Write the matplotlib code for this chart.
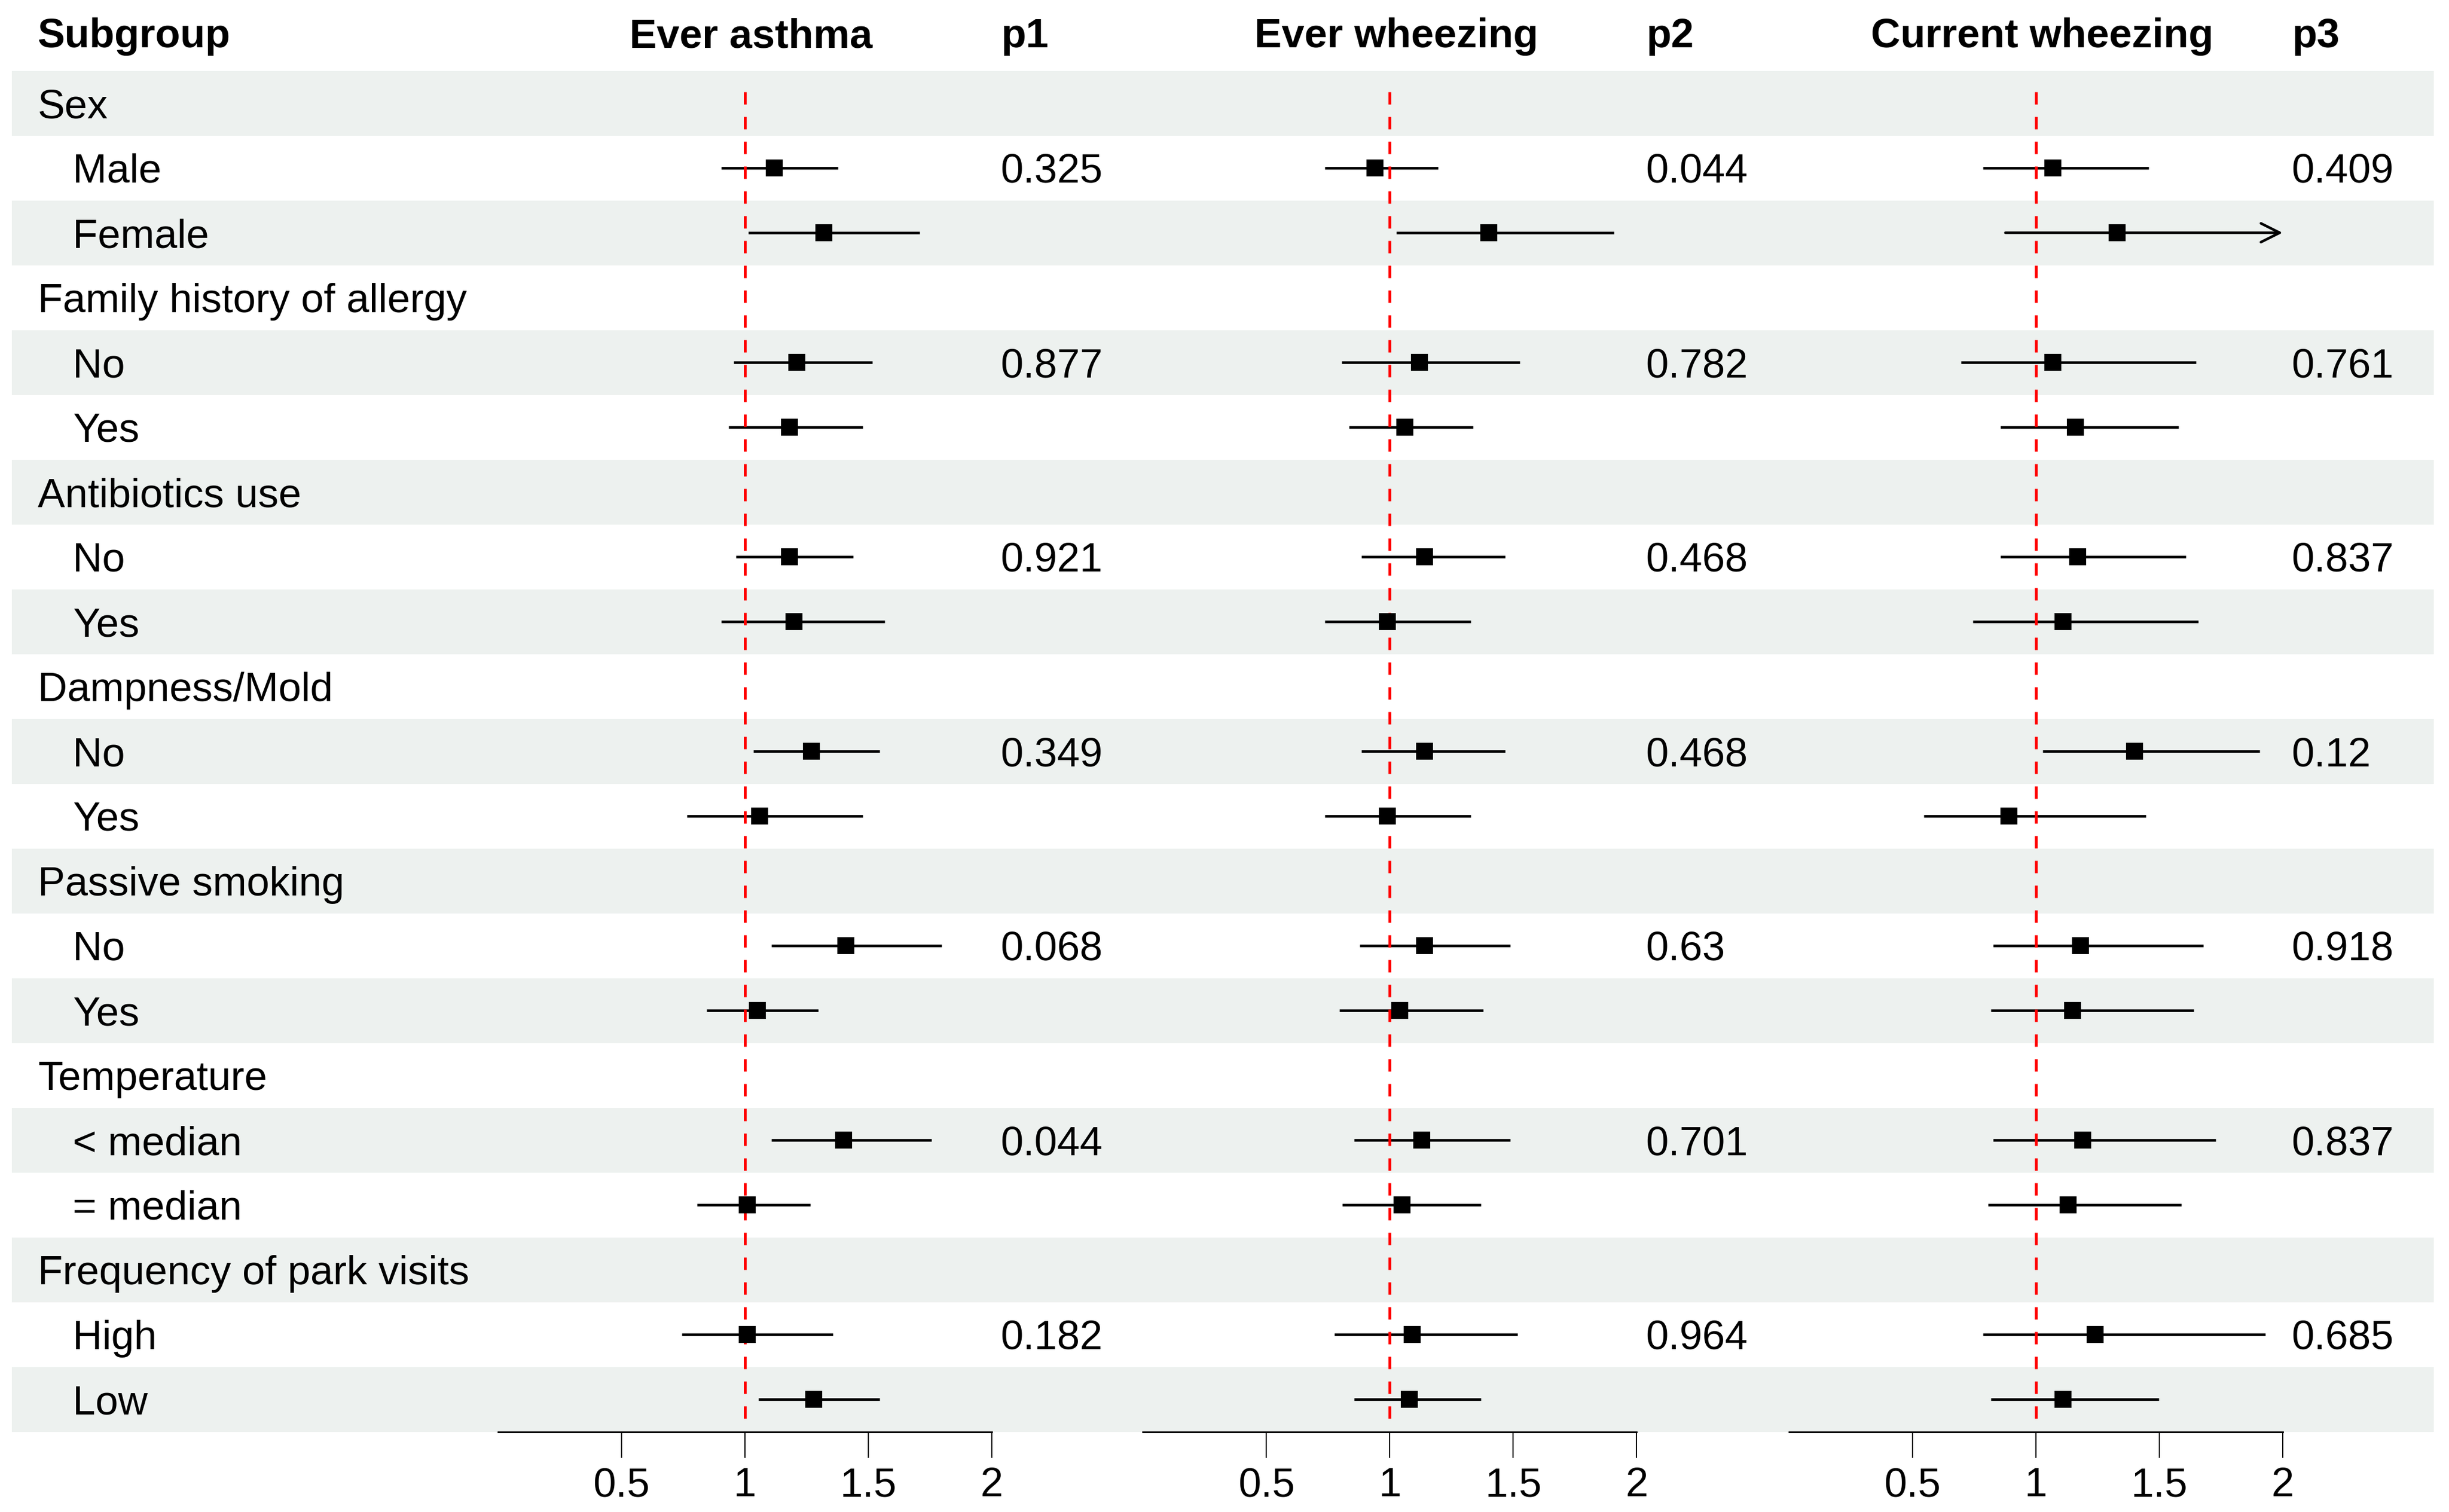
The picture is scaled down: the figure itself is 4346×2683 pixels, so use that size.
import numpy as np
import matplotlib
matplotlib.use("Agg")
import matplotlib.pyplot as plt

# SUBGROUPS
groups = ["Sex", "Family history of allergy", "Antibiotics use",
          "Dampness/Mold", "Passive smoking", "Temperature",
          "Frequency of park visits"]
levels = [["Male", "Female"], ["No", "Yes"], ["No", "Yes"], ["No", "Yes"],
          ["No", "Yes"], ["< median", "= median"], ["High", "Low"]]

# OUTCOMES
outcomes = ["Ever asthma", "Ever wheezing", "Current wheezing"]
p_headers = ["p1", "p2", "p3"]

# ODDS RATIOS (one value per level row, top to bottom)
asthma_or = [1.12, 1.32, 1.21, 1.18, 1.18, 1.20, 1.27, 1.06,
             1.41, 1.05, 1.40, 1.01, 1.01, 1.28]
asthma_lo = [0.905, 1.015, 0.955, 0.935, 0.964, 0.905, 1.035, 0.766,
             1.107, 0.846, 1.107, 0.806, 0.746, 1.056]
asthma_hi = [1.377, 1.708, 1.517, 1.477, 1.438, 1.567, 1.546, 1.477,
             1.798, 1.297, 1.757, 1.266, 1.357, 1.546]

wheeze_or = [0.94, 1.40, 1.12, 1.06, 1.14, 0.99, 1.14, 0.99,
             1.14, 1.04, 1.13, 1.05, 1.09, 1.08]
wheeze_lo = [0.737, 1.026, 0.806, 0.835, 0.886, 0.737, 0.886, 0.737,
             0.877, 0.797, 0.856, 0.807, 0.776, 0.856]
wheeze_hi = [1.196, 1.908, 1.527, 1.336, 1.468, 1.328, 1.468, 1.328,
             1.488, 1.377, 1.488, 1.368, 1.517, 1.368]

current_or = [1.07, 1.33, 1.07, 1.16, 1.17, 1.11, 1.40, 0.89,
              1.18, 1.15, 1.19, 1.13, 1.24, 1.11]
current_lo = [0.787, 0.877, 0.696, 0.856, 0.856, 0.746, 1.029, 0.546,
              0.827, 0.817, 0.827, 0.806, 0.787, 0.817]
current_hi = [1.458, 2.10, 1.649, 1.578, 1.608, 1.658, 1.908, 1.447,
              1.679, 1.639, 1.729, 1.589, 1.930, 1.498]

# P FOR INTERACTION (one per subgroup)
p1 = ["0.325", "0.877", "0.921", "0.349", "0.068", "0.044", "0.182"]
p2 = ["0.044", "0.782", "0.468", "0.468", "0.63", "0.701", "0.964"]
p3 = ["0.409", "0.761", "0.837", "0.12", "0.918", "0.837", "0.685"]

x_ticks = [0.5, 1, 1.5, 2]
x_tick_labels = ["0.5", "1", "1.5", "2"]

series = [
    (asthma_or, asthma_lo, asthma_hi, p1),
    (wheeze_or, wheeze_lo, wheeze_hi, p2),
    (current_or, current_lo, current_hi, p3),
]

# ROW LAYOUT
row_labels = []
row_is_group = []
level_rows = []
group_rows = []
for g, lv in zip(groups, levels):
    row_labels.append(g)
    row_is_group.append(True)
    group_rows.append(len(row_labels))
    for name in lv:
        level_rows.append(len(row_labels))
        row_labels.append(name)
        row_is_group.append(False)
n_rows = len(row_labels)

# STYLE
plt.rcParams["font.family"] = ["Liberation Sans", "DejaVu Sans"]
FS = 17.4
SHADE = "#edf1ef"

W, H = 4346, 2683
DPI = 300
fig = plt.figure(figsize=(W / DPI, H / DPI), dpi=DPI)
fig.patch.set_facecolor("white")

top_px = 125.5
bottom_px = 2540.5
ax_bottom = 1 - bottom_px / H
ax_height = (bottom_px - top_px) / H
header_y = -1.09

# BACKGROUND TABLE
bg = fig.add_axes([0, ax_bottom, 1, ax_height])
bg.set_xlim(0, W)
bg.set_ylim(n_rows - 0.5, -0.5)
bg.axis("off")

for i in range(n_rows):
    if i % 2 == 0:
        bg.axhspan(i - 0.5, i + 0.5, xmin=21 / W, xmax=4319 / W,
                   color=SHADE, lw=0, zorder=0)

for i, (lab, is_g) in enumerate(zip(row_labels, row_is_group)):
    bg.text(67 if is_g else 129, i, lab, fontsize=FS,
            va="center_baseline", ha="left")

bg.text(67, header_y, "Subgroup", fontsize=FS, fontweight="bold",
        va="center_baseline", ha="left", clip_on=False)

# FOREST PANELS
lefts = [883.7, 2028.4, 3174.7]
panel_w = 876

for k, (est, lo, hi, pv) in enumerate(series):
    ax = fig.add_axes([lefts[k] / W, ax_bottom, panel_w / W, ax_height])
    ax.patch.set_alpha(0)
    ax.set_xlim(0, 2)
    ax.set_ylim(n_rows - 0.5, -0.5)

    for s in ["top", "left", "right"]:
        ax.spines[s].set_visible(False)
    ax.spines["bottom"].set_linewidth(0.7)
    ax.set_yticks([])
    ax.set_xticks(x_ticks)
    ax.set_xticklabels(x_tick_labels)
    ax.tick_params(axis="x", direction="out", length=11, width=0.5,
                   pad=4, labelsize=FS)

    # REFERENCE LINE
    ax.vlines(1, -0.17, n_rows - 0.7, colors="red",
              linestyles=(0, (4.4, 4.4)), lw=1.2, zorder=3)

    # CONFIDENCE INTERVALS
    for r, e, l, h in zip(level_rows, est, lo, hi):
        if h > 2:
            ax.annotate("", xy=(2, r), xytext=(l, r),
                        arrowprops=dict(arrowstyle="->,head_length=0.4,head_width=0.2",
                                        lw=1.1, color="black",
                                        shrinkA=0, shrinkB=0,
                                        mutation_scale=20),
                        zorder=2)
        else:
            ax.hlines(r, l, h, colors="black", lw=1.1, zorder=2)
        ax.plot(e, r, marker="s", markersize=6.3, color="black",
                linestyle="none", zorder=4)

    # HEADERS
    ax.text(1.026, header_y, outcomes[k], fontsize=FS, fontweight="bold",
            ha="center", va="center_baseline", clip_on=False)
    ax.text(2.038, header_y, p_headers[k], fontsize=FS, fontweight="bold",
            ha="left", va="center_baseline", clip_on=False)

    # P VALUES
    for r, p in zip(group_rows, pv):
        ax.text(2.036, r, p, fontsize=FS, ha="left",
                va="center_baseline", clip_on=False)

fig.savefig("out.png", dpi=DPI, facecolor="white")
